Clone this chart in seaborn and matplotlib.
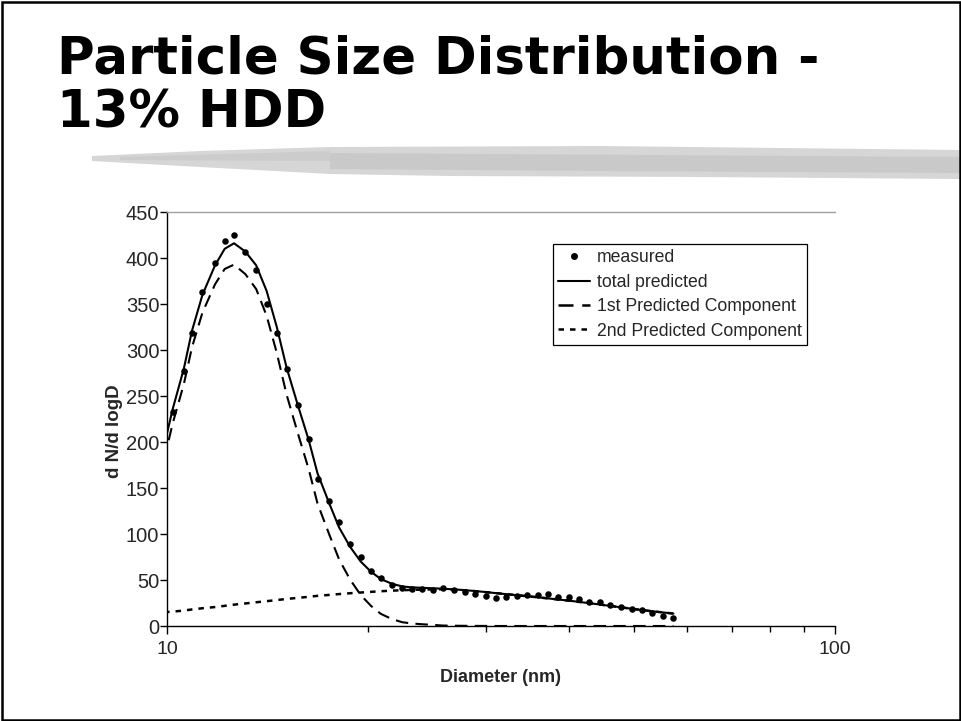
import matplotlib
matplotlib.use("Agg")
import matplotlib.pyplot as plt
from matplotlib.patches import Polygon, Rectangle
from matplotlib.lines import Line2D
from matplotlib.ticker import FixedLocator, NullFormatter
import seaborn as sns
import pandas as pd

# Mobility diameter channels (nm), 64 channels per decade
diameter = [9.9, 10.2, 10.6, 10.9, 11.3, 11.8, 12.2, 12.6, 13.1, 13.6, 14.1, 14.6,
            15.1, 15.7, 16.3, 16.8, 17.5, 18.1, 18.8, 19.5, 20.2, 20.9, 21.7, 22.5,
            23.3, 24.1, 25.0, 25.9, 26.9, 27.9, 28.9, 30.0, 31.1, 32.2, 33.4, 34.6,
            35.9, 37.2, 38.5, 40.0, 41.4, 42.9, 44.5, 46.1, 47.8, 49.6, 51.4, 53.3,
            55.2, 57.3]

measured = [197, 233, 277, 318, 363, 395, 419, 425, 406, 387, 350, 318,
            279, 240, 203, 160, 136, 113, 89, 75, 60, 52, 45, 41,
            40, 40, 39, 41.5, 39, 37, 34.4, 32.6, 30.8, 31, 32.6, 34,
            33.7, 34.4, 31, 31, 29, 26, 25.7, 23, 21, 19, 17.7, 13.8,
            10.9, 8.4]

total_predicted = [196, 236, 280, 321, 360, 392, 410, 416, 407, 392, 364, 325,
                   281, 240, 202, 166, 133, 107, 86, 70, 59, 51, 46, 43,
                   42, 41.5, 41, 40.5, 39.8, 39, 38, 36.9, 35.7, 34.6, 33.5, 32.4,
                   31.2, 30, 28.8, 27.5, 26.2, 24.8, 23.3, 21.8, 20.3, 18.8, 17.3, 16,
                   14.8, 13.5]

first_component = [181, 220.4, 263.2, 303, 340.7, 371.4, 388.1, 392.8, 382.5, 366.2, 337, 296.8,
                   251.6, 209.4, 170.3, 133.2, 99.2, 72.3, 50.4, 33.6, 21.9, 13.2, 7.6, 4.1,
                   2.7, 1.9, 1.2, 0.5, 0.3, 0.2, 0.1, 0.1, 0, 0, 0, 0,
                   0, 0, 0, 0, 0, 0, 0, 0, 0, 0, 0, 0,
                   0, 0]

second_component = [15, 15.6, 16.8, 18.0, 19.3, 20.6, 21.9, 23.2, 24.5, 25.8, 27.0, 28.2,
                    29.4, 30.6, 31.7, 32.8, 33.8, 34.7, 35.6, 36.4, 37.1, 37.8, 38.4, 38.9,
                    39.3, 39.6, 39.8, 40.0, 39.5, 38.8, 37.9, 36.8, 35.7, 34.6, 33.5, 32.4,
                    31.2, 30.0, 28.8, 27.5, 26.2, 24.8, 23.3, 21.8, 20.3, 18.8, 17.3, 16.0,
                    14.8, 13.5]

y_ticks = [0, 50, 100, 150, 200, 250, 300, 350, 400, 450]
x_major = [10, 100]
x_minor = [20, 30, 40, 50, 60, 70, 80, 90]

df = pd.DataFrame({
    "Diameter": diameter,
    "measured": measured,
    "total": total_predicted,
    "first": first_component,
    "second": second_component,
})

sns.set_theme(style="white")
plt.rcParams["font.family"] = ["Liberation Sans", "DejaVu Sans"]

W, H = 961, 721
fig = plt.figure(figsize=(W / 100, H / 100), dpi=100)
fig.patch.set_facecolor("white")

# Slide decoration layer in pixel coordinates
deco = fig.add_axes([0, 0, 1, 1], zorder=0)
deco.set_xlim(0, W)
deco.set_ylim(H, 0)
deco.axis("off")
brush = [(92, 156), (200, 151), (330, 147), (600, 146), (961, 150),
         (961, 179), (700, 177), (450, 176), (330, 174), (200, 167), (92, 161)]
deco.add_patch(Polygon(brush, closed=True, facecolor="#d6d6d6", edgecolor="none"))
deco.add_patch(Polygon([(330, 153), (961, 157), (961, 173), (600, 171), (330, 169)],
                       closed=True, facecolor="#bdbdbd", edgecolor="none", alpha=0.5))
deco.add_patch(Polygon([(120, 157), (330, 151), (330, 161), (120, 160)],
                       closed=True, facecolor="#c6c6c6", edgecolor="none", alpha=0.6))
deco.add_patch(Rectangle((1.5, 1.5), W - 3, H - 3, fill=False, edgecolor="black", linewidth=1.8))

deco.text(57, 74, "Particle Size Distribution -", fontsize=37, fontweight="bold",
          family=["DejaVu Sans"], va="baseline", ha="left", color="black")
deco.text(57, 128, "13% HDD", fontsize=37, fontweight="bold",
          family=["DejaVu Sans"], va="baseline", ha="left", color="black")

# Chart
ax = fig.add_axes([167 / W, 1 - 626 / H, (835 - 167) / W, (626 - 212) / H], zorder=2)
ax.set_facecolor("none")

sns.lineplot(data=df, x="Diameter", y="second", ax=ax, color="black", linewidth=1.8,
             sort=False, estimator=None)
ax.lines[-1].set_linestyle((0, (2.2, 2.4)))
sns.lineplot(data=df, x="Diameter", y="first", ax=ax, color="black", linewidth=1.5,
             sort=False, estimator=None)
ax.lines[-1].set_linestyle((0, (6, 3.5)))
sns.lineplot(data=df, x="Diameter", y="total", ax=ax, color="black", linewidth=1.5,
             sort=False, estimator=None)
sns.scatterplot(data=df, x="Diameter", y="measured", ax=ax, color="black", s=22,
                edgecolor="black", linewidth=0, zorder=5)

ax.set_xscale("log")
ax.set_xlim(10, 100)
ax.set_ylim(0, 450)
ax.xaxis.set_major_locator(FixedLocator(x_major))
ax.xaxis.set_minor_locator(FixedLocator(x_minor))
ax.xaxis.set_minor_formatter(NullFormatter())
ax.set_xticklabels([str(v) for v in x_major])
ax.set_yticks(y_ticks)

for side in ["left", "bottom"]:
    ax.spines[side].set_color("black")
    ax.spines[side].set_linewidth(1.0)
ax.spines["top"].set_color("#a0a0a0")
ax.spines["top"].set_linewidth(1.0)
ax.spines["right"].set_visible(False)

ax.tick_params(axis="y", which="major", direction="out", length=5, width=1,
               color="black", labelsize=14.5, pad=0.5, left=True)
ax.tick_params(axis="x", which="major", direction="out", length=6, width=1,
               color="black", labelsize=14, pad=5, bottom=True)
ax.tick_params(axis="x", which="minor", direction="out", length=4, width=1,
               color="black", bottom=True)

ax.set_xlabel("Diameter (nm)", fontsize=13, fontweight="bold", labelpad=8)
ax.set_ylabel("d N/d logD", fontsize=13.5, fontweight="bold")
ax.yaxis.set_label_coords((123 - 167) / 668, (626 - 431) / 414)

handles = [
    Line2D([], [], linestyle="none", marker="o", markersize=4, color="black"),
    Line2D([], [], color="black", linewidth=1.5),
    Line2D([], [], color="black", linewidth=1.8, linestyle=(0, (6, 3.5))),
    Line2D([], [], color="black", linewidth=1.8, linestyle=(0, (2.2, 2.4))),
]
labels = ["measured", "total predicted", "1st Predicted Component", "2nd Predicted Component"]
leg = ax.legend(handles, labels, loc="upper left", bbox_to_anchor=(553 / W, 1 - 244 / H),
                bbox_transform=fig.transFigure, borderaxespad=0, fontsize=12.7,
                frameon=True, fancybox=False, framealpha=1, edgecolor="black",
                handlelength=1.8, handletextpad=0.4, labelspacing=0.42, borderpad=0.3)
leg.get_frame().set_linewidth(0.9)

fig.savefig("out.png", dpi=100)
